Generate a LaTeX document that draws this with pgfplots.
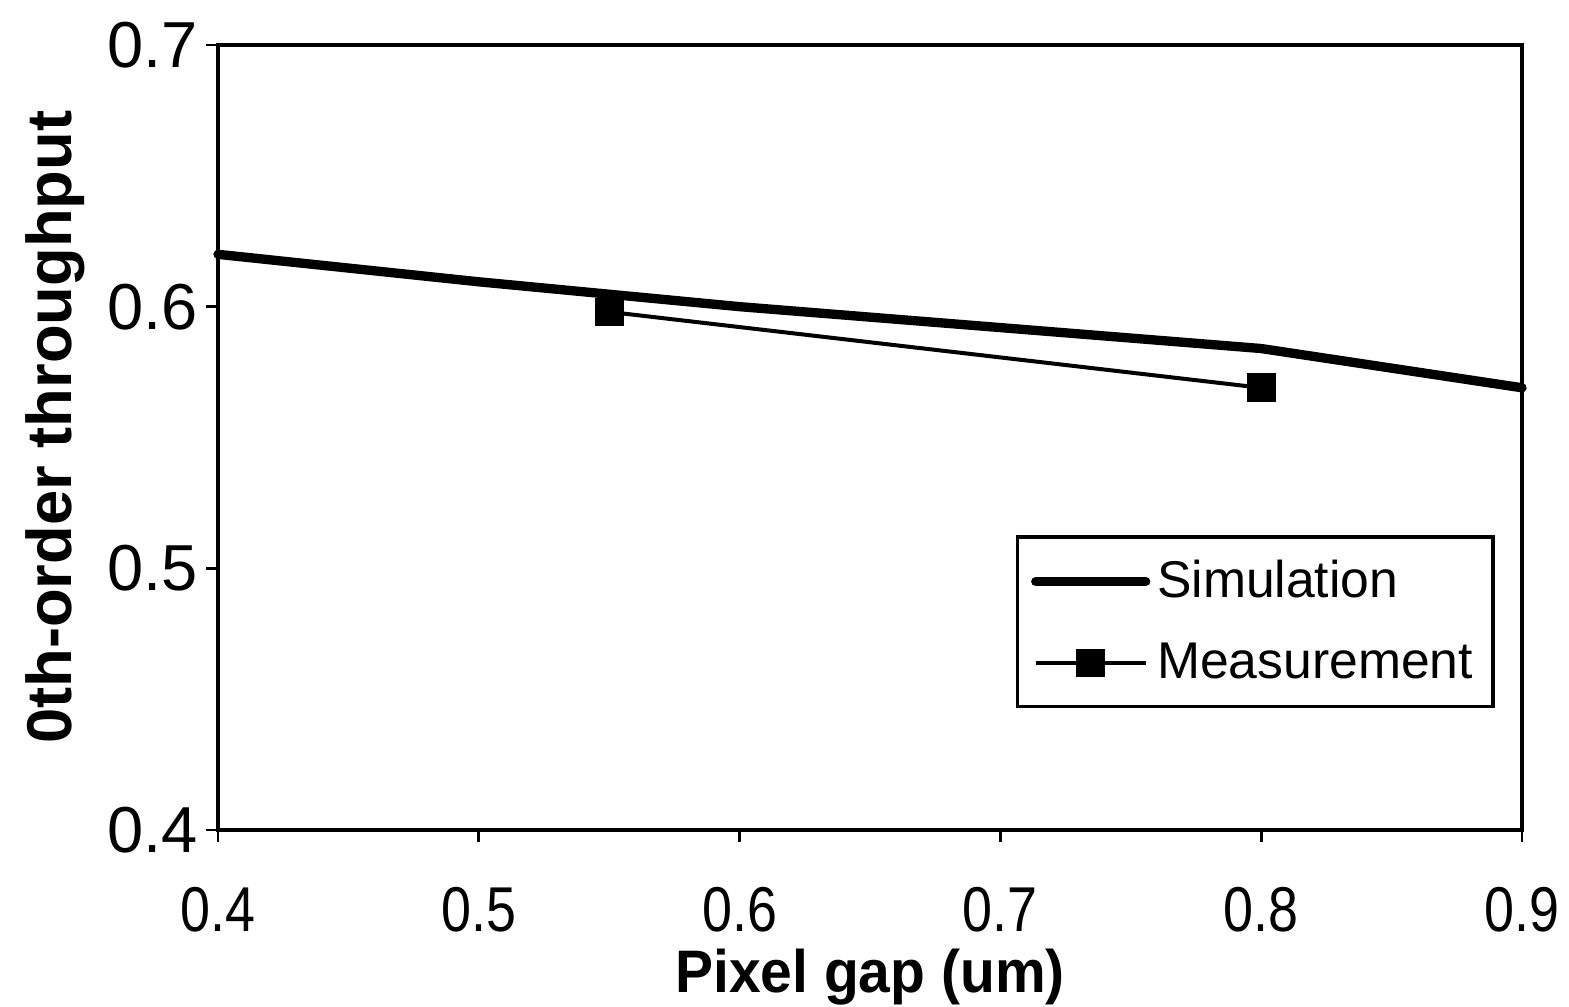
\documentclass[border=0pt]{standalone}
\usepackage{fontspec}
\setmainfont{Liberation Sans}
\usepackage{pgfplots}
\pgfplotsset{compat=1.18}

\begin{document}
\begin{tikzpicture}
\begin{axis}[
    name=ax,
    scale only axis,
    width=391.2pt, height=235.5pt,
    xmin=0.4, xmax=0.9,
    ymin=0.4, ymax=0.7,
    xtick={0.4,0.5,0.6,0.7,0.8,0.9},
    ytick={0.4,0.5,0.6,0.7},
    tick pos=left,
    tick align=outside,
    major tick length=3.5pt,
    axis line style={line width=1.2pt},
    every tick/.style={black, line width=0.8pt},
    clip=false,
    /pgf/number format/assume math mode=true,
    /pgf/number format/fixed,
    /pgf/number format/fixed zerofill,
    /pgf/number format/precision=1,
    yticklabel style={font=\fontsize{19.5}{23}\selectfont, xshift=1pt},
    xticklabel style={font=\fontsize{19}{23}\selectfont, xscale=0.85, yshift=-10pt},
    xlabel={Pixel gap (um)},
    ylabel={0th-order throughput},
    xlabel style={at={(axis description cs:0.5,-0.187)}, anchor=center,
      font=\fontsize{18}{22}\selectfont\bfseries, xscale=0.95},
    ylabel style={at={(axis description cs:-0.125,0.513)}, anchor=center, rotate=0,
      font=\fontsize{19}{23}\selectfont\bfseries},
    legend style={at={(rel axis cs:0.979,0.155)}, anchor=south east,
      draw=black, line width=1pt, inner xsep=4pt, inner ysep=5pt,
      font=\fontsize{15.5}{19}\selectfont, row sep=8pt,
      cells={anchor=west}},
    legend image code/.code={
      \draw[#1, mark=none] (0pt,0pt) -- (33pt,0pt);
      \path[#1, line width=0pt] plot coordinates {(16.5pt,0pt)};
    },
]
\addplot[black, line width=2.8pt, line cap=round, line join=round, mark=none] coordinates {
  (0.4,0.620) (0.5,0.6095) (0.6,0.600) (0.7,0.592) (0.8,0.584) (0.9,0.569)
};
\addlegendentry{Simulation}

\addplot[black, line width=1.2pt, mark=square*, mark size=4pt,
  mark options={rounded corners=1.2pt, line width=0.6pt, fill=black}] coordinates {
  (0.55,0.598) (0.8,0.569)
};
\addlegendentry{Measurement}
\end{axis}
\pgfresetboundingbox
\path (ax.south west) ++(-65.4pt,-53.1pt) coordinate (bl);
\path (ax.north east) ++(14.1pt,13.5pt) coordinate (tr);
\useasboundingbox (bl) rectangle (tr);
\end{tikzpicture}
\end{document}
